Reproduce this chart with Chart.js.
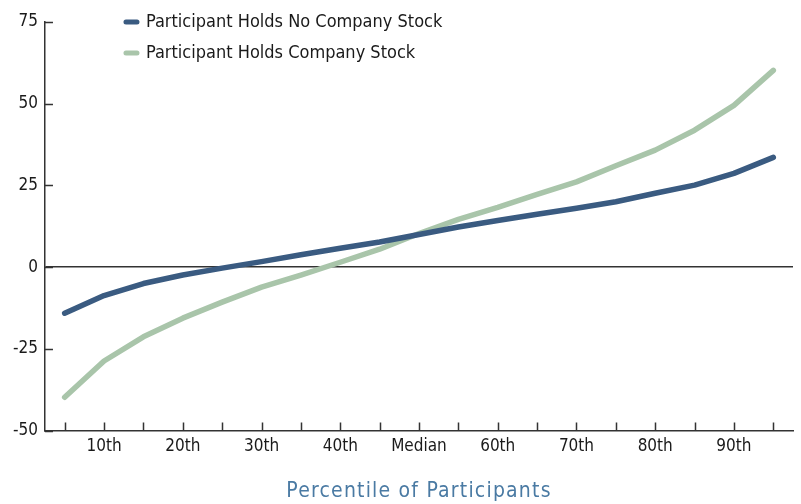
<!DOCTYPE html>
<html>
<head>
<meta charset="utf-8">
<script src="https://cdn.jsdelivr.net/npm/chart.js@4.4.1/dist/chart.umd.min.js"></script>
<style>
  body { margin: 0; background: #fff; }
  canvas { display: block; }
</style>
</head>
<body>
<canvas id="chart" width="801" height="504"></canvas>
<script>
// percentiles, 5th to 95th, only every other one is labelled
const percentiles = ['', '10th', '', '20th', '', '30th', '', '40th', '', 'Median', '', '60th', '', '70th', '', '80th', '', '90th', ''];
const noStock = [-14.1, -8.7, -5.0, -2.4, -0.3, 1.7, 3.8, 5.8, 7.7, 10.0, 12.3, 14.3, 16.2, 18.0, 20.0, 22.6, 25.1, 28.7, 33.6];
const withStock = [-39.8, -28.7, -21.3, -15.6, -10.7, -6.1, -2.4, 1.5, 5.5, 10.3, 14.6, 18.3, 22.3, 26.1, 31.0, 35.8, 41.9, 49.5, 60.2];
const yMin = -50, yMax = 75, yStep = 25;

const FONT = "'Liberation Sans Narrow', 'DejaVu Sans Condensed', Roboto, sans-serif";
const AXIS = '#333333';

// small tick marks pointing into the plot, legend and x title
const extras = {
  id: 'extras',
  afterDraw(chart) {
    const ctx = chart.ctx;
    const area = chart.chartArea;
    const x = chart.scales.x, y = chart.scales.y;
    ctx.save();
    ctx.strokeStyle = AXIS;
    ctx.lineWidth = 1.5;
    ctx.beginPath();
    for (let i = 0; i < x.ticks.length; i++) {
      const px = Math.round(x.getPixelForTick(i)) + 0.5;
      ctx.moveTo(px, area.bottom);
      ctx.lineTo(px, area.bottom - 8);
    }
    for (let i = 0; i < y.ticks.length; i++) {
      const py = Math.round(y.getPixelForTick(i)) + 0.5;
      ctx.moveTo(area.left, py);
      ctx.lineTo(area.left + 8, py);
    }
    ctx.stroke();

    // legend
    ctx.font = '18px ' + FONT;
    ctx.textBaseline = 'middle';
    ctx.lineCap = 'round';
    chart.data.datasets.forEach((ds, i) => {
      const ly = area.top + i * 31;
      const lx = area.left + 81;
      ctx.strokeStyle = ds.borderColor;
      ctx.lineWidth = 5;
      ctx.beginPath();
      ctx.moveTo(lx, ly);
      ctx.lineTo(lx + 11, ly);
      ctx.stroke();
      ctx.fillStyle = '#1a1a1a';
      ctx.fillText(ds.label, lx + 20, ly);
    });

    // x axis title
    ctx.font = '21px ' + FONT;
    ctx.letterSpacing = '1.2px';
    ctx.fillStyle = '#4a7aa3';
    ctx.textAlign = 'center';
    ctx.fillText('Percentile of Participants', (area.left + area.right) / 2, area.bottom + 61);
    ctx.restore();
  }
};

new Chart(document.getElementById('chart'), {
  type: 'line',
  data: {
    labels: percentiles,
    datasets: [
      {
        label: 'Participant Holds No Company Stock',
        data: noStock,
        borderColor: '#3a5b81',
        borderWidth: 5.5
      },
      {
        label: 'Participant Holds Company Stock',
        data: withStock,
        borderColor: '#a9c5aa',
        borderWidth: 5.5
      }
    ]
  },
  options: {
    responsive: false,
    animation: false,
    devicePixelRatio: 1,
    layout: { padding: { left: 6, right: 8, top: 22, bottom: 41 } },
    elements: {
      point: { radius: 0 },
      line: { tension: 0, borderCapStyle: 'round', borderJoinStyle: 'round' }
    },
    plugins: {
      legend: { display: false },
      tooltip: { enabled: false }
    },
    scales: {
      x: {
        offset: true,
        grid: { display: false, drawTicks: false },
        border: { display: true, color: AXIS, width: 1.5 },
        ticks: {
          autoSkip: false,
          maxRotation: 0,
          padding: 6,
          color: '#1a1a1a',
          font: { family: FONT, size: 17 }
        }
      },
      y: {
        min: yMin,
        max: yMax,
        grid: {
          drawTicks: false,
          color: ctx => ctx.tick && ctx.tick.value === 0 ? AXIS : 'rgba(0,0,0,0)',
          lineWidth: 1.5
        },
        border: { display: true, color: AXIS, width: 1.5 },
        ticks: {
          stepSize: yStep,
          padding: 7,
          color: '#1a1a1a',
          font: { family: FONT, size: 17 }
        }
      }
    }
  },
  plugins: [extras]
});
</script>
</body>
</html>
